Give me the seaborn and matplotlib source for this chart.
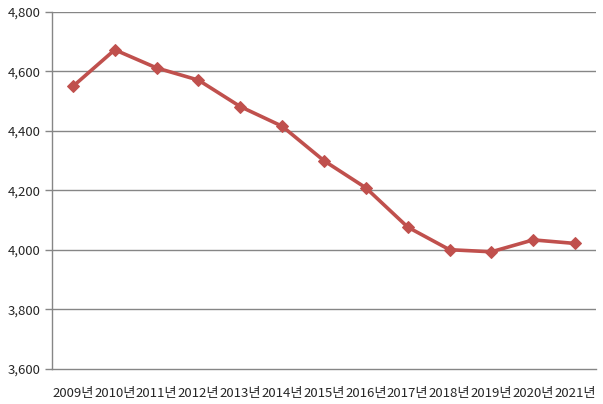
import numpy as np
import pandas as pd
import matplotlib
matplotlib.use("Agg")
import matplotlib.pyplot as plt
import seaborn as sns

years = ["2009년", "2010년", "2011년", "2012년", "2013년", "2014년", "2015년",
         "2016년", "2017년", "2018년", "2019년", "2020년", "2021년"]
values = [4550, 4673, 4612, 4571, 4482, 4416, 4300, 4209, 4077, 4001, 3994, 4034, 4022]

df = pd.DataFrame({"pos": np.arange(len(years)), "value": values})

sns.set_style("white")
plt.rcParams['font.family'] = ['Noto Sans CJK KR', 'DejaVu Sans']

fig = plt.figure(figsize=(6.03, 4.04), dpi=100)
ax = fig.add_axes([52 / 603, 1 - 369 / 404, 544 / 603, 357 / 404])

grid_col = "#868686"
line_col = "#C0504D"

for v in range(3800, 4801, 200):
    ax.axhline(v, color=grid_col, lw=1, zorder=0)

sns.lineplot(data=df, x="pos", y="value", ax=ax, color=line_col, lw=2.6,
             marker="D", markersize=6, markeredgecolor=line_col)

ax.set_xlim(-0.5, len(years) - 0.5)
ax.set_ylim(3600, 4800)
ax.set_yticks(range(3600, 4801, 200))
ax.set_yticklabels([f"{v:,}" for v in range(3600, 4801, 200)], fontsize=9.5)
ax.set_xticks(np.arange(len(years)))
ax.set_xticklabels(years, fontsize=9.5)
ax.set_xticks(np.arange(-0.5, len(years)), minor=True)
ax.tick_params(axis="x", which="major", length=0, pad=13)
ax.tick_params(axis="x", which="minor", length=5, color=grid_col, width=1)
ax.tick_params(axis="y", length=5, color=grid_col, width=1, left=True, pad=3)
ax.set_xlabel("")
ax.set_ylabel("")

for s in ["top", "right"]:
    ax.spines[s].set_visible(False)
for s in ["left", "bottom"]:
    ax.spines[s].set_color(grid_col)
    ax.spines[s].set_linewidth(1)

fig.savefig("out.png", dpi=100)
